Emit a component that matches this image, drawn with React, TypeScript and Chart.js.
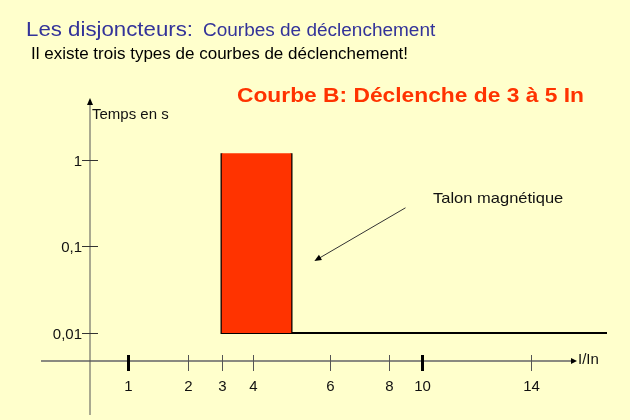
import React, { useEffect, useRef } from 'react';
import { Chart, registerables, LinearScale } from 'chart.js';

// ---- data ----
const X_TICKS = [1, 2, 3, 4, 6, 8, 10, 14];
const X_MAJOR_TICKS = [1, 10];
const Y_TICKS = [0.01, 0.1, 1];
const Y_TICK_LABELS = ['0,01', '0,1', '1'];
const TRIP_X = [3, 5]; // I/In : déclenchement de 3 à 5 In
const TRIP_TIME = [0.01, 1.2]; // s
const CURVE_END_X = 17;
const ARROW_FROM = { x: 9, y: 0.28 };
const ARROW_TO = { x: 5.6, y: 0.068 };

// schematic (hand-drawn) x axis: value -> fraction of axis length
const X_AXIS_VALUES = [0, 1, 2, 3, 4, 6, 8, 10, 14, 17];
const X_AXIS_FRACTIONS = [0, 0.0741, 0.189, 0.2544, 0.3159, 0.4636, 0.5789, 0.6416, 0.8524, 1];
const Y_MIN = 0.00474;
const Y_MAX = 5.21;

const FONT = "'Liberation Sans', Arial, sans-serif";

function valueToFraction(v: number): number {
  const vs = X_AXIS_VALUES, fs = X_AXIS_FRACTIONS;
  if (v <= vs[0]) return fs[0] + (v - vs[0]) * (fs[1] - fs[0]) / (vs[1] - vs[0]);
  for (let i = 1; i < vs.length; i++) {
    if (v <= vs[i]) {
      return fs[i - 1] + (v - vs[i - 1]) * (fs[i] - fs[i - 1]) / (vs[i] - vs[i - 1]);
    }
  }
  const n = vs.length - 1;
  return fs[n] + (v - vs[n]) * (fs[n] - fs[n - 1]) / (vs[n] - vs[n - 1]);
}
function fractionToValue(f: number): number {
  const vs = X_AXIS_VALUES, fs = X_AXIS_FRACTIONS;
  for (let i = 1; i < fs.length; i++) {
    if (f <= fs[i] || i === fs.length - 1) {
      return vs[i - 1] + (f - fs[i - 1]) * (vs[i] - vs[i - 1]) / (fs[i] - fs[i - 1]);
    }
  }
  return vs[vs.length - 1];
}

class SchematicScale extends LinearScale {
  static id = 'schematic';
  static defaults = (LinearScale as any).defaults;
  getPixelForValue(value: number) {
    if (value === null || value === undefined) return NaN;
    return (this as any).getPixelForDecimal(valueToFraction(value));
  }
  getValueForPixel(pixel: number) {
    return fractionToValue((this as any).getDecimalForPixel(pixel));
  }
}

Chart.register(...registerables, SchematicScale as any);

function drawText(ctx: CanvasRenderingContext2D, s: string, x: number, y: number, font: string, color: string, sx = 1, align: CanvasTextAlign = 'left') {
  ctx.save();
  ctx.translate(x, y);
  ctx.scale(sx, 1);
  ctx.font = font;
  ctx.fillStyle = color;
  ctx.textAlign = align;
  ctx.textBaseline = 'alphabetic';
  ctx.fillText(s, 0, 0);
  ctx.restore();
}

const decorPlugin = {
  id: 'decor',
  beforeDatasetsDraw(chart: any) {
    const { ctx, chartArea } = chart;
    const xs = chart.scales.x;
    const ys = chart.scales.y;
    const ax = xs.getPixelForValue(0);
    const ay = chartArea.bottom;
    ctx.save();
    // x axis
    ctx.strokeStyle = '#8a8a80';
    ctx.lineWidth = 2;
    ctx.beginPath();
    ctx.moveTo(ax - 49, ay);
    ctx.lineTo(chartArea.right - 33, ay);
    ctx.stroke();
    ctx.fillStyle = '#000';
    ctx.beginPath();
    ctx.moveTo(chartArea.right - 30, ay);
    ctx.lineTo(chartArea.right - 36, ay - 3);
    ctx.lineTo(chartArea.right - 36, ay + 3);
    ctx.closePath();
    ctx.fill();
    // y axis
    ctx.strokeStyle = '#555';
    ctx.lineWidth = 1;
    ctx.beginPath();
    ctx.moveTo(ax, chartArea.top + 5);
    ctx.lineTo(ax, ay + 54);
    ctx.stroke();
    ctx.beginPath();
    ctx.moveTo(ax, chartArea.top);
    ctx.lineTo(ax - 3, chartArea.top + 7);
    ctx.lineTo(ax + 3, chartArea.top + 7);
    ctx.closePath();
    ctx.fill();
    // x ticks
    X_TICKS.forEach((v) => {
      const px = Math.round(xs.getPixelForValue(v)) + 0.5;
      const major = X_MAJOR_TICKS.includes(v);
      ctx.strokeStyle = major ? '#000' : '#555';
      ctx.lineWidth = major ? 3 : 1;
      ctx.beginPath();
      ctx.moveTo(px, ay - 6);
      ctx.lineTo(px, ay + 10);
      ctx.stroke();
      drawText(ctx, String(v), px, ay + 30, `15px ${FONT}`, '#111', 1, 'center');
    });
    // y ticks
    Y_TICKS.forEach((v, i) => {
      const py = Math.round(ys.getPixelForValue(v)) + 0.5;
      ctx.strokeStyle = '#333';
      ctx.lineWidth = 1;
      ctx.beginPath();
      ctx.moveTo(ax - 8, py);
      ctx.lineTo(ax + 8, py);
      ctx.stroke();
      drawText(ctx, Y_TICK_LABELS[i], ax - 8, py + 5.5, `15px ${FONT}`, '#111', 1, 'right');
    });
    // annotation arrow
    const fx = xs.getPixelForValue(ARROW_FROM.x), fy = ys.getPixelForValue(ARROW_FROM.y);
    const tx = xs.getPixelForValue(ARROW_TO.x), ty = ys.getPixelForValue(ARROW_TO.y);
    const ang = Math.atan2(ty - fy, tx - fx);
    ctx.strokeStyle = '#333';
    ctx.lineWidth = 1;
    ctx.beginPath();
    ctx.moveTo(fx, fy);
    ctx.lineTo(tx - 5 * Math.cos(ang), ty - 5 * Math.sin(ang));
    ctx.stroke();
    ctx.fillStyle = '#000';
    ctx.beginPath();
    ctx.moveTo(tx, ty);
    ctx.lineTo(tx - 7 * Math.cos(ang) + 3 * Math.sin(ang), ty - 7 * Math.sin(ang) - 3 * Math.cos(ang));
    ctx.lineTo(tx - 7 * Math.cos(ang) - 3 * Math.sin(ang), ty - 7 * Math.sin(ang) + 3 * Math.cos(ang));
    ctx.closePath();
    ctx.fill();
    ctx.restore();
  },
  afterDraw(chart: any) {
    const { ctx } = chart;
    drawText(ctx, 'Les disjoncteurs:', 26, 36, `21px ${FONT}`, '#333399', 1.06);
    drawText(ctx, 'Courbes de déclenchement', 203, 36, `18px ${FONT}`, '#333399', 1.055);
    drawText(ctx, 'Il existe trois types de courbes de déclenchement!', 31, 59, `17px ${FONT}`, '#000', 1.0);
    drawText(ctx, 'Courbe B: Déclenche de 3 à 5 In', 237, 102, `bold 21px ${FONT}`, '#FF3300', 1.085);
    drawText(ctx, 'Talon magnétique', 433, 203, `15px ${FONT}`, '#111', 1.1);
    drawText(ctx, 'Temps en s', 92, 119, `15px ${FONT}`, '#111', 1);
    drawText(ctx, 'I/In', 578, 364, `15px ${FONT}`, '#111', 1);
  },
};

export default function App() {
  const ref = useRef<HTMLCanvasElement>(null);
  useEffect(() => {
    if (!ref.current) return;
    const chart = new Chart(ref.current, {
      type: 'line',
      data: {
        datasets: [
          {
            // top of the magnetic trip zone (filled down to next dataset)
            data: [{ x: TRIP_X[0], y: TRIP_TIME[1] }, { x: TRIP_X[1], y: TRIP_TIME[1] }],
            borderWidth: 0,
            borderColor: 'rgba(0,0,0,0)',
            backgroundColor: '#FF3300',
            fill: '+1',
            pointRadius: 0,
          },
          {
            data: [{ x: TRIP_X[0], y: TRIP_TIME[0] }, { x: TRIP_X[1], y: TRIP_TIME[0] }],
            borderWidth: 0,
            borderColor: 'rgba(0,0,0,0)',
            fill: false,
            pointRadius: 0,
          },
          {
            // left edge + horizontal curve at 0,01 s
            data: [
              { x: TRIP_X[0], y: TRIP_TIME[1] },
              { x: TRIP_X[0], y: TRIP_TIME[0] },
              { x: CURVE_END_X, y: TRIP_TIME[0] },
            ],
            borderWidth: 2,
            borderColor: '#000',
            fill: false,
            pointRadius: 0,
          },
          {
            // right edge
            data: [{ x: TRIP_X[1], y: TRIP_TIME[1] }, { x: TRIP_X[1], y: TRIP_TIME[0] }],
            borderWidth: 2,
            borderColor: '#000',
            fill: false,
            pointRadius: 0,
          },
        ],
      },
      options: {
        animation: false,
        responsive: false,
        maintainAspectRatio: false,
        events: [],
        clip: false as any,
        layout: { padding: { left: 90, right: 23, top: 98, bottom: 59 } },
        plugins: { legend: { display: false }, tooltip: { enabled: false }, title: { display: false } },
        scales: {
          x: { type: 'schematic' as any, min: 0, max: CURVE_END_X, display: false },
          y: { type: 'logarithmic', min: Y_MIN, max: Y_MAX, display: false },
        },
      },
      plugins: [decorPlugin],
    });
    return () => chart.destroy();
  }, []);
  return (
    <div style={{ position: 'absolute', left: 0, top: 0, width: 630, height: 420, background: '#FFFFCC' }}>
      <canvas ref={ref} width={630} height={420} style={{ display: 'block' }} />
    </div>
  );
}
